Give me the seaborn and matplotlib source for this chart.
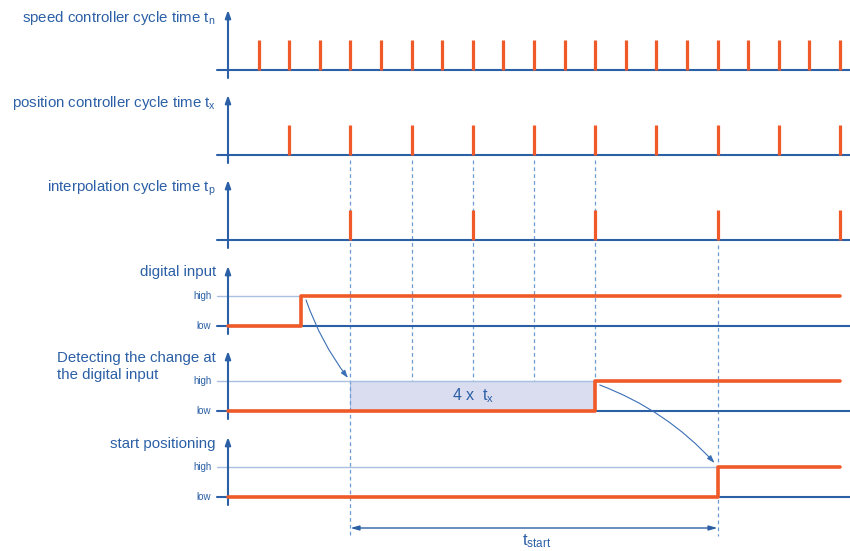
import numpy as np
import pandas as pd
import matplotlib.pyplot as plt
from matplotlib.patches import Rectangle
import seaborn as sns

# 타이밍 데이터 (x 단위 = 속도제어 주기 t_n)
speed_ticks = [1, 2, 3, 4, 5, 6, 7, 8, 9, 10, 11, 12, 13, 14, 15, 16, 17, 18, 19, 20]
position_ticks = [2, 4, 6, 8, 10, 12, 14, 16, 18, 20]
interp_ticks = [4, 8, 12, 16, 20]

input_t = [0, 2.4, 20]
input_lvl = [0, 1, 1]
detect_t = [0, 12, 20]
detect_lvl = [0, 1, 1]
start_t = [0, 16, 20]
start_lvl = [0, 1, 1]

delay_span = [4, 12]      # 4 x t_x
tstart_span = [4, 16]     # t_start
guide_short = [6, 8, 10, 12]
guide_long = [4, 16]

row_labels = [r"speed controller cycle time $\mathrm{t_n}$",
              r"position controller cycle time $\mathrm{t_x}$",
              r"interpolation cycle time $\mathrm{t_p}$",
              "digital input",
              None,
              "start positioning"]
detect_lines = ["Detecting the change at", "the digital input"]

ORANGE = "#f05a28"
BLUE = "#2b5fa6"
LIGHT = "#a9c1e0"
DASH = "#6d9ad0"
BOX = "#dadcef"

sns.set_style("white")
plt.rcParams['font.family'] = ['Liberation Sans', 'DejaVu Sans']
plt.rcParams['mathtext.fontset'] = 'custom'
plt.rcParams['mathtext.rm'] = 'Liberation Sans'
plt.rcParams['mathtext.it'] = 'Liberation Sans:italic'

fig = plt.figure(figsize=(8.5, 5.51), dpi=100)
ax = fig.add_axes([0, 0, 1, 1])
ax.set_xlim(-7.451, 20.327)
ax.set_ylim(551, 0)
ax.axis('off')

base = [70, 155, 240, 326, 411, 497]
amp = 30
label_dy = [52, 52, 52, 54, 45, 53]
x_left = -0.36

# 보조 점선
ax.vlines(guide_short, base[1] + 5, base[4] - amp, colors=DASH, lw=0.9, linestyles=(0, (3, 2.5)))
ax.vlines(guide_long[0], base[1] + 5, 536, colors=DASH, lw=0.9, linestyles=(0, (3, 2.5)))
ax.vlines(guide_long[1], base[2] + 5, 536, colors=DASH, lw=0.9, linestyles=(0, (3, 2.5)))

# 4 x t_x 박스
ax.add_patch(Rectangle((delay_span[0], base[4] - amp), delay_span[1] - delay_span[0], amp,
                       facecolor=BOX, edgecolor=LIGHT, lw=0.8, zorder=1))
ax.text(np.mean(delay_span), base[4] - amp / 2, r"4 x  $\mathrm{t_x}$", ha='center', va='center',
        fontsize=11.5, color=BLUE)

for i, b in enumerate(base):
    ax.plot([x_left, 20.33], [b, b], color=BLUE, lw=1.5, zorder=2)
    ax.annotate('', xy=(0, b - 60), xytext=(0, b + 8),
                arrowprops=dict(arrowstyle='-|>,head_length=0.45,head_width=0.16', color=BLUE,
                                lw=1.5, shrinkA=0, shrinkB=0), zorder=3)
    if row_labels[i] is not None:
        ax.text(-0.4, b - label_dy[i], row_labels[i], ha='right', va='center', fontsize=10.8,
                color=BLUE)

# 두 줄 라벨 (왼쪽 정렬)
for k, line in enumerate(detect_lines):
    ax.text(-5.58, base[4] - 53 + 17 * k, line, ha='left', va='center', fontsize=10.8, color=BLUE)

# 펄스
for ticks, b in zip([speed_ticks, position_ticks, interp_ticks], base[:3]):
    ax.vlines(ticks, b - amp, b, colors=ORANGE, lw=2.3, zorder=4)

# 디지털 신호
for (t, lvl), b in zip([(input_t, input_lvl), (detect_t, detect_lvl), (start_t, start_lvl)], base[3:]):
    ax.plot([x_left, t[1]], [b - amp, b - amp], color=LIGHT, lw=1.0, zorder=2)
    sns.lineplot(x=t, y=[b - amp * v for v in lvl], drawstyle='steps-post', color=ORANGE,
                 lw=2.6, ax=ax, zorder=5, estimator=None)
    ax.text(-0.55, b - amp, "high", ha='right', va='center', fontsize=7, color=BLUE)
    ax.text(-0.55, b, "low", ha='right', va='center', fontsize=7, color=BLUE)

# 곡선 화살표
ax.annotate('', xy=(3.92, 378), xytext=(2.55, 300),
            arrowprops=dict(arrowstyle='-|>,head_length=0.45,head_width=0.15', color="#3a6fb5",
                            lw=0.8, connectionstyle='arc3,rad=0.08', shrinkA=0, shrinkB=0))
ax.annotate('', xy=(15.9, 463), xytext=(12.15, 385),
            arrowprops=dict(arrowstyle='-|>,head_length=0.45,head_width=0.15', color="#3a6fb5",
                            lw=0.8, connectionstyle='arc3,rad=-0.12', shrinkA=0, shrinkB=0))

# t_start
ax.annotate('', xy=(tstart_span[1], 528), xytext=(tstart_span[0], 528),
            arrowprops=dict(arrowstyle='<|-|>,head_length=0.5,head_width=0.14', color=BLUE,
                            lw=1.0, shrinkA=0, shrinkB=0))
ax.text(np.mean(tstart_span) + 0.1, 541, r"$\mathrm{t_{start}}$", ha='center', va='center',
        fontsize=12, color=BLUE)

plt.savefig('out.png', dpi=100)
